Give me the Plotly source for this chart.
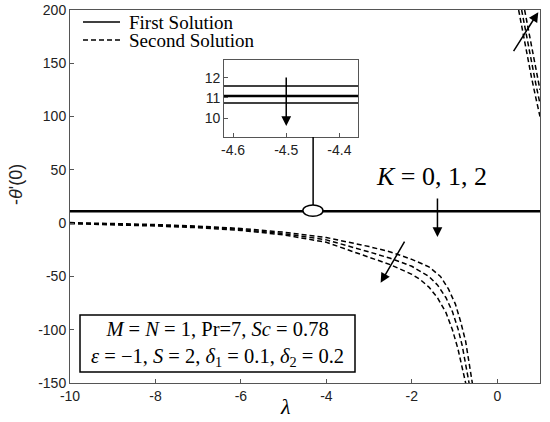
import plotly.graph_objects as go

# 第一解：三条几乎重合的水平线 (K = 0, 1, 2)
lam_first = [-10, 1]
first_k0 = [10.75, 10.75]
first_k1 = [11.1, 11.1]
first_k2 = [11.6, 11.6]

# 第二解：下方分支
lam_low_a = [-10, -9, -8, -7, -6, -5, -4, -3, -2.5, -2, -1.6, -1.33, -1.14, -0.98, -0.86, -0.74, -0.67, -0.58, -0.56]
low_a = [0.5, -0.3, -1.3, -2.8, -5, -8.5, -13.5, -22, -27, -34, -41, -50, -62, -76, -92, -111, -128, -150, -156]
lam_low_b = [-10, -9, -8, -7, -6, -5, -4, -3, -2.5, -2, -1.8, -1.6, -1.4, -1.2, -1.05, -0.92, -0.82, -0.74, -0.66, -0.64]
low_b = [0, -0.9, -2, -3.5, -5.9, -9.8, -15.7, -27, -33, -40.5, -45, -50, -58, -70, -83, -99, -115, -131, -150, -156]
lam_low_c = [-10, -9, -8, -7, -6, -5, -4, -3, -2.5, -2, -1.8, -1.6, -1.4, -1.2, -1.05, -0.92, -0.82, -0.74, -0.72]
low_c = [-0.5, -1.5, -2.7, -4.3, -6.8, -11, -18, -32, -39, -48, -53, -60, -70, -84, -100, -118, -135, -150, -156]

# 第二解：右上分支
lam_up_a = [0.50, 0.6, 0.7, 0.8, 0.9, 1.0]
up_a = [200, 178, 157, 137, 118, 100]
lam_up_b = [0.57, 0.7, 0.8, 0.9, 1.0]
up_b = [200, 172, 151, 131, 112]
lam_up_c = [0.64, 0.7, 0.8, 0.9, 1.0]
up_c = [200, 188, 165, 145, 125]

x_ticks = [-10, -8, -6, -4, -2, 0]
x_labels = ['-10', '-8', '-6', '-4', '-2', '0']
y_ticks = [-150, -100, -50, 0, 50, 100, 150, 200]
y_labels = ['-150', '-100', '-50', '0', '50', '100', '150', '200']
inset_x_ticks = [-4.6, -4.5, -4.4]
inset_x_labels = ['-4.6', '-4.5', '-4.4']
inset_y_ticks = [10, 11, 12]

SERIF = "Liberation Serif"
SANS = "Liberation Sans"
DASH = "5px,3px"


def px_x(p):
    # 页面像素 -> paper 坐标
    return (p - 70) / 470


def px_y(p):
    return (383 - p) / 373


fig = go.Figure()

# 主图第一解
for yv in [first_k0, first_k1, first_k2]:
    fig.add_trace(go.Scatter(x=lam_first, y=yv, mode='lines',
                             line=dict(color='black', width=1.5), showlegend=False))

# 主图第二解
for lx, ly in [(lam_low_a, low_a), (lam_low_b, low_b), (lam_low_c, low_c),
               (lam_up_a, up_a), (lam_up_b, up_b), (lam_up_c, up_c)]:
    fig.add_trace(go.Scatter(x=lx, y=ly, mode='lines',
                             line=dict(color='black', width=1.5, dash=DASH),
                             showlegend=False))

# 插图（局部放大）
for yv, w in [(first_k0, 1.5), (first_k1, 2.5), (first_k2, 1.5)]:
    fig.add_trace(go.Scatter(x=lam_first, y=yv, mode='lines',
                             line=dict(color='black', width=w),
                             xaxis='x2', yaxis='y2', showlegend=False))

axis_common = dict(showline=True, linecolor='#555555', linewidth=1, mirror=True,
                   ticks='inside', ticklen=4, tickcolor='#555555',
                   showgrid=False, zeroline=False, automargin=False,
                   ticklabeloverflow='allow',
                   tickfont=dict(family=SANS, size=14, color='#222222'))

fig.update_layout(
    width=550, height=422,
    margin=dict(l=70, r=10, t=10, b=39),
    plot_bgcolor='white', paper_bgcolor='white',
    xaxis=dict(range=[-10, 1], tickvals=x_ticks, ticktext=x_labels, **axis_common),
    yaxis=dict(range=[-150, 200], tickvals=y_ticks, ticktext=y_labels, **axis_common),
    xaxis2=dict(domain=[0.3277, 0.6128], anchor='y2', range=[-4.617, -4.365],
                tickvals=inset_x_ticks, ticktext=inset_x_labels, **axis_common),
    yaxis2=dict(domain=[0.6595, 0.866], anchor='x2', range=[9.05, 12.9],
                tickvals=inset_y_ticks, **axis_common),
    showlegend=False,
)

# 手绘图例
for y_px, name, d in [(22, 'First Solution', 'solid'), (40, 'Second Solution', DASH)]:
    fig.add_shape(type='line', xref='paper', yref='paper',
                  x0=px_x(83), x1=px_x(120), y0=px_y(y_px), y1=px_y(y_px),
                  line=dict(color='black', width=1.5, dash=d))
    fig.add_annotation(x=px_x(127), y=px_y(y_px), xref='paper', yref='paper', showarrow=False,
                       xanchor='left', yanchor='middle', text=name,
                       font=dict(family=SERIF, size=19, color='black'))

# 插图与主图的连接线和椭圆
fig.add_shape(type='line', x0=-4.31, x1=-4.31, y0=17, y1=80.8,
              line=dict(color='black', width=1.5), layer='above')
fig.add_shape(type='circle', x0=-4.55, x1=-4.08, y0=6.5, y1=17,
              line=dict(color='black', width=1.5), fillcolor='white', layer='above')

arrow = dict(showarrow=True, arrowhead=2, arrowsize=1.3, arrowwidth=1.5, arrowcolor='black', text='')
# K 方向箭头
fig.add_annotation(x=-1.4, y=-13, ax=-1.4, ay=24.5, xref='x', yref='y', axref='x', ayref='y', **arrow)
# 下方分支箭头
fig.add_annotation(x=-2.73, y=-56, ax=-2.15, ay=-16, xref='x', yref='y', axref='x', ayref='y', **arrow)
# 右上分支箭头
fig.add_annotation(x=0.96, y=198, ax=0.36, ay=160, xref='x', yref='y', axref='x', ayref='y', **arrow)
# 插图箭头
fig.add_annotation(x=-4.5, y=9.6, ax=-4.5, ay=12.1, xref='x2', yref='y2', axref='x2', ayref='y2', **arrow)

# 文字
fig.add_annotation(x=px_x(431), y=px_y(176), xref='paper', yref='paper', showarrow=False,
                   xanchor='center', yanchor='middle',
                   text='<i>K</i> = 0, 1, 2', font=dict(family=SERIF, size=26, color='black'))

# 参数框
fig.add_shape(type='rect', xref='paper', yref='paper',
              x0=px_x(80), x1=px_x(355), y0=px_y(372), y1=px_y(315),
              line=dict(color='black', width=1.5), fillcolor='white', layer='above')
fig.add_annotation(x=px_x(217), y=px_y(344), xref='paper', yref='paper', showarrow=False,
                   xanchor='center', yanchor='middle',
                   text='<i>M</i> = <i>N</i> = 1, Pr=7, <i>Sc</i> = 0.78<br>'
                        '<i>ε</i> = −1, <i>S</i> = 2, <i>δ</i><sub>1</sub> = 0.1, <i>δ</i><sub>2</sub> = 0.2',
                   font=dict(family=SERIF, size=20.5, color='black'))

fig.add_annotation(x=px_x(285), y=px_y(406), xref='paper', yref='paper', showarrow=False,
                   xanchor='center', yanchor='middle',
                   text='<i>λ</i>', font=dict(family=SERIF, size=22, color='black'))
fig.add_annotation(x=px_x(16), y=px_y(185), xref='paper', yref='paper', showarrow=False,
                   xanchor='center', yanchor='middle',
                   text="-<i>θ</i>'(0)", textangle=-90, font=dict(family=SANS, size=18, color='#222222'))

# 去掉页面 body 的默认边距，使图形贴齐窗口左上角；隐藏工具栏
fig.write_html("out.html", config={'displayModeBar': False},
               post_script="document.body.style.margin='0px';")
